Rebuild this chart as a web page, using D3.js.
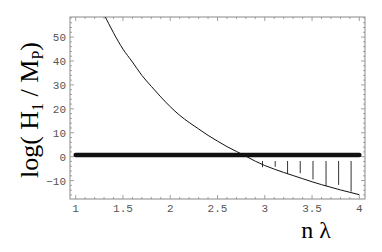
<!DOCTYPE html>
<html>
<head>
<meta charset="utf-8">
<script src="https://cdn.jsdelivr.net/npm/d3@7"></script>
<style>
  body { margin: 0; background: #fff; }
  svg { display: block; }
</style>
</head>
<body>
<div id="viz_container"></div>
<script>
// data
const curveX = [1.3, 1.4, 1.5, 1.6, 1.7, 1.8, 1.9, 2.0, 2.1, 2.2, 2.3, 2.4, 2.5, 2.6, 2.7, 2.8, 2.9, 3.0, 3.1, 3.2, 3.3, 3.4, 3.5, 3.6, 3.7, 3.8, 3.9, 4.0];
const curveY = [59.5, 51.8, 45.0, 39.6, 34.0, 29.4, 25.0, 20.9, 17.3, 14.3, 11.6, 8.9, 6.5, 4.2, 2.2, 0.2, -1.9, -3.7, -5.2, -6.6, -7.9, -9.2, -10.5, -11.7, -12.8, -13.9, -14.9, -15.9];
const flatX = [1, 4];
const flatY = [0.7, 0.7];
const hatchX = [2.976, 3.11, 3.241, 3.375, 3.51, 3.648, 3.781, 3.913];
const hatchTop = [-1.8, -1.8, -1.8, -1.8, -1.8, -1.8, -1.8, -1.8];
const hatchBottom = [-4.4, -4.2, -7.2, -6.9, -9.5, -12.3, -11.8, -14.6];
const xTicks = [1, 1.5, 2, 2.5, 3, 3.5, 4];
const xTickLabels = ["1", "1.5", "2", "2.5", "3", "3.5", "4"];
const yTicks = [-10, 0, 10, 20, 30, 40, 50];

const W = 382, H = 252;
const margin = {top: 17, right: 17, bottom: 53, left: 70};

const svg = d3.select("#viz_container")
  .append("svg")
    .attr("width", W)
    .attr("height", H);

const x = d3.scaleLinear().domain([0.94, 4.06]).range([margin.left, W - margin.right]);
const y = d3.scaleLinear().domain([-17.7, 58.4]).range([H - margin.bottom, margin.top]);

const x0 = x.range()[0], x1 = x.range()[1], y0 = y.range()[0], y1 = y.range()[1];

svg.append("clipPath").attr("id", "plotclip")
  .append("rect").attr("x", x0).attr("y", y1).attr("width", x1 - x0).attr("height", y0 - y1);

const frameColor = "#8a8a8a";

// minor + major ticks on all four sides, pointing inward
const xMinor = d3.range(1, 4.001, 0.1);
const yMinor = d3.range(-16, 58.1, 2);

const ticks = svg.append("g").attr("stroke", frameColor).attr("stroke-width", 0.8);
xMinor.forEach(v => {
  const major = xTicks.some(t => Math.abs(t - v) < 1e-6);
  const len = major ? 4 : 2;
  ticks.append("line").attr("x1", x(v)).attr("x2", x(v)).attr("y1", y0).attr("y2", y0 - len);
  ticks.append("line").attr("x1", x(v)).attr("x2", x(v)).attr("y1", y1).attr("y2", y1 + len);
});
yMinor.forEach(v => {
  const major = yTicks.includes(v);
  const len = major ? 4 : 2;
  ticks.append("line").attr("y1", y(v)).attr("y2", y(v)).attr("x1", x0).attr("x2", x0 + len);
  ticks.append("line").attr("y1", y(v)).attr("y2", y(v)).attr("x1", x1).attr("x2", x1 - len);
});

// frame
svg.append("rect")
  .attr("x", x0).attr("y", y1)
  .attr("width", x1 - x0).attr("height", y0 - y1)
  .attr("fill", "none")
  .attr("stroke", frameColor)
  .attr("stroke-width", 1);

// tick labels
const labelStyle = sel => sel
  .attr("font-family", "'Liberation Mono', 'DejaVu Sans Mono', monospace")
  .attr("font-size", "11px")
  .attr("fill", "#555");

svg.append("g").selectAll("text")
  .data(xTicks)
  .join("text")
    .attr("x", d => x(d))
    .attr("y", y0 + 13)
    .attr("text-anchor", "middle")
    .call(labelStyle)
    .text((d, i) => xTickLabels[i]);

svg.append("g").selectAll("text")
  .data(yTicks)
  .join("text")
    .attr("x", x0 - 4)
    .attr("y", d => y(d) + 4)
    .attr("text-anchor", "end")
    .call(labelStyle)
    .text(d => d < 0 ? "\u2212" + Math.abs(d) : d);

const plot = svg.append("g").attr("clip-path", "url(#plotclip)");

// hatch lines
plot.append("g").selectAll("line")
  .data(hatchX)
  .join("line")
    .attr("x1", d => x(d)).attr("x2", d => x(d))
    .attr("y1", (d, i) => y(hatchTop[i]))
    .attr("y2", (d, i) => y(hatchBottom[i]))
    .attr("stroke", "#333")
    .attr("stroke-width", 1);

// thick flat line
plot.append("path")
  .datum(flatX.map((v, i) => [v, flatY[i]]))
  .attr("d", d3.line().x(d => x(d[0])).y(d => y(d[1])))
  .attr("fill", "none")
  .attr("stroke", "#111")
  .attr("stroke-width", 4.5)
  .attr("stroke-linecap", "round");

// decreasing curve
plot.append("path")
  .datum(curveX.map((v, i) => [v, curveY[i]]))
  .attr("d", d3.line().curve(d3.curveMonotoneX).x(d => x(d[0])).y(d => y(d[1])))
  .attr("fill", "none")
  .attr("stroke", "#111")
  .attr("stroke-width", 1);

// axis titles
const yTitle = svg.append("text")
  .attr("transform", `translate(38, ${(y0 + y1) / 2 + 2}) rotate(-90)`)
  .attr("text-anchor", "middle")
  .attr("font-family", "'Liberation Serif', 'DejaVu Serif', serif")
  .attr("font-size", "26px")
  .attr("fill", "#000");
yTitle.append("tspan").text("log( H");
yTitle.append("tspan").attr("font-size", "16px").attr("dy", 5).text("1");
yTitle.append("tspan").attr("dy", -5).text(" / M");
yTitle.append("tspan").attr("font-size", "16px").attr("dy", 5).text("P");
yTitle.append("tspan").attr("dy", -5).text(")");

svg.append("text")
  .attr("x", 316)
  .attr("y", 238)
  .attr("text-anchor", "middle")
  .attr("font-family", "'Liberation Serif', 'DejaVu Serif', serif")
  .attr("font-size", "24px")
  .attr("fill", "#000")
  .text("n \u03bb");
</script>
</body>
</html>
